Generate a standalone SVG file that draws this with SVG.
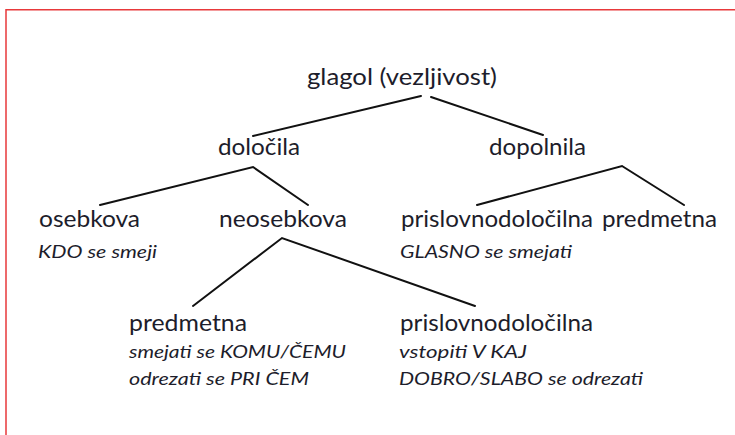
<svg xmlns="http://www.w3.org/2000/svg" width="735" height="435" viewBox="0 0 735 435">
  <style>
    .lbl { font-family: Lato, "Open Sans", "Liberation Sans", sans-serif; font-size: 23px; fill: #1d1d2b; }
    .ex { font-family: Lato, "Open Sans", "Liberation Sans", sans-serif; font-size: 18px; font-style: italic; fill: #1d1d2b; }
    .edge { stroke: #111; stroke-width: 2; fill: none; stroke-linecap: round; }
    .frame { stroke: #e8393b; stroke-width: 1.5; fill: none; }
  </style>
  <rect width="735" height="435" fill="#ffffff"/>
  <!-- page frame (top and left rules) -->
  <path class="frame" d="M6,436 V9.75 H736"/>

  <g id="connectors">
    <line class="edge" x1="421" y1="96" x2="253" y2="136"/>
    <line class="edge" x1="431" y1="97" x2="543" y2="135"/>
    <polyline class="edge" points="100,205 253,167 308,205"/>
    <polyline class="edge" points="477,205 622,166 684,205"/>
    <polyline class="edge" points="193,306 282,238 475,306"/>
  </g>

  <g id="glagol">
    <text class="lbl" x="307" y="85" textLength="190" lengthAdjust="spacingAndGlyphs">glagol (vezljivost)</text>
  </g>
  <g id="dolocila">
    <text class="lbl" x="218" y="155" textLength="82" lengthAdjust="spacingAndGlyphs">določila</text>
  </g>
  <g id="dopolnila">
    <text class="lbl" x="489" y="155" textLength="97" lengthAdjust="spacingAndGlyphs">dopolnila</text>
  </g>
  <g id="osebkova">
    <text class="lbl" x="39" y="227" textLength="101" lengthAdjust="spacingAndGlyphs">osebkova</text>
    <text class="ex" x="38" y="258" textLength="119" lengthAdjust="spacingAndGlyphs">KDO se smeji</text>
  </g>
  <g id="neosebkova">
    <text class="lbl" x="219" y="227" textLength="128" lengthAdjust="spacingAndGlyphs">neosebkova</text>
  </g>
  <g id="dopolnila-prislovnodolocilna">
    <text class="lbl" x="401" y="227" textLength="192" lengthAdjust="spacingAndGlyphs">prislovnodoločilna</text>
    <text class="ex" x="400" y="258" textLength="172" lengthAdjust="spacingAndGlyphs">GLASNO se smejati</text>
  </g>
  <g id="dopolnila-predmetna">
    <text class="lbl" x="602" y="227" textLength="115" lengthAdjust="spacingAndGlyphs">predmetna</text>
  </g>
  <g id="neosebkova-predmetna">
    <text class="lbl" x="129" y="331" textLength="118" lengthAdjust="spacingAndGlyphs">predmetna</text>
    <text class="ex" x="129" y="358" textLength="217" lengthAdjust="spacingAndGlyphs">smejati se KOMU/ČEMU</text>
    <text class="ex" x="129" y="385" textLength="180" lengthAdjust="spacingAndGlyphs">odrezati se PRI ČEM</text>
  </g>
  <g id="neosebkova-prislovnodolocilna">
    <text class="lbl" x="400" y="331" textLength="193" lengthAdjust="spacingAndGlyphs">prislovnodoločilna</text>
    <text class="ex" x="399" y="358" textLength="128" lengthAdjust="spacingAndGlyphs">vstopiti V KAJ</text>
    <text class="ex" x="399" y="385" textLength="244" lengthAdjust="spacingAndGlyphs">DOBRO/SLABO se odrezati</text>
  </g>
</svg>
